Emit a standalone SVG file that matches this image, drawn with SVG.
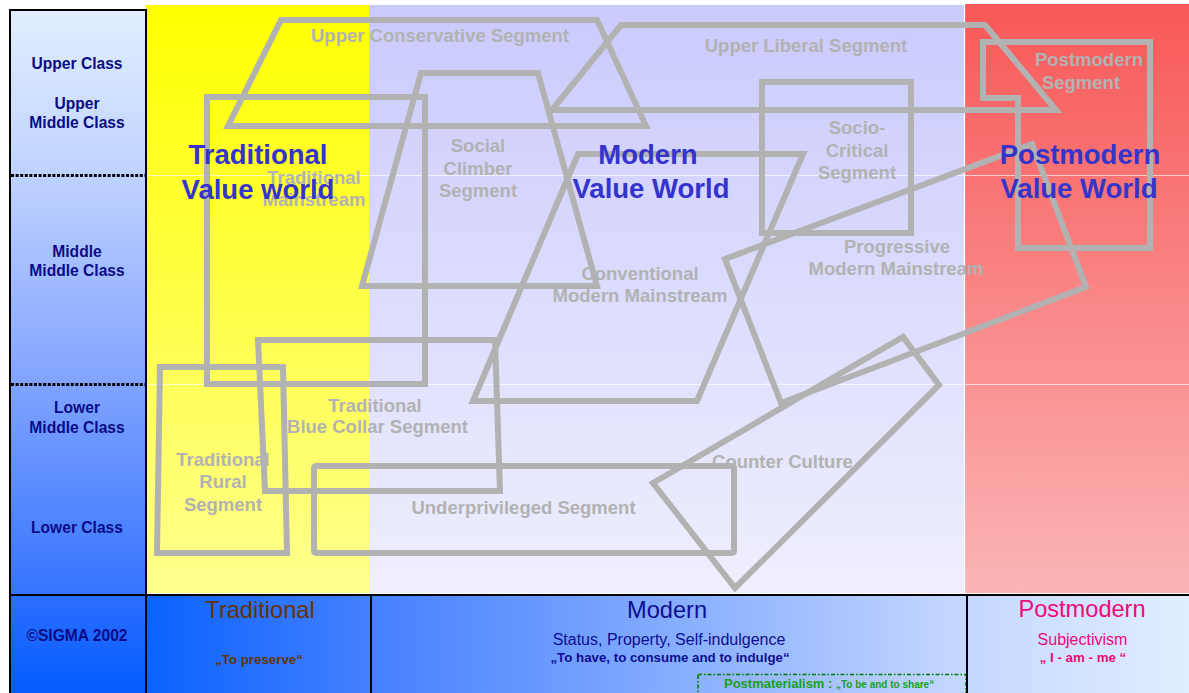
<svg xmlns="http://www.w3.org/2000/svg" width="1189" height="693" viewBox="0 0 1189 693">
  <defs>
    <linearGradient id="gYellow" x1="0" y1="5" x2="0" y2="593" gradientUnits="userSpaceOnUse">
      <stop offset="0" stop-color="#FFFF00"/>
      <stop offset="1" stop-color="#FFFF8E"/>
    </linearGradient>
    <linearGradient id="gLavender" x1="0" y1="5" x2="0" y2="593" gradientUnits="userSpaceOnUse">
      <stop offset="0" stop-color="#CACAFD"/>
      <stop offset="1" stop-color="#EFEFFE"/>
    </linearGradient>
    <linearGradient id="gRed" x1="0" y1="5" x2="0" y2="593" gradientUnits="userSpaceOnUse">
      <stop offset="0" stop-color="#F85858"/>
      <stop offset="1" stop-color="#FBB5B5"/>
    </linearGradient>
    <linearGradient id="gAxis" x1="0" y1="10" x2="0" y2="595" gradientUnits="userSpaceOnUse">
      <stop offset="0" stop-color="#E2EFFF"/>
      <stop offset="0.3" stop-color="#BCD0FF"/>
      <stop offset="0.6" stop-color="#88A8FF"/>
      <stop offset="1" stop-color="#3474FF"/>
    </linearGradient>
    <linearGradient id="gCorner" x1="0" y1="595" x2="0" y2="693" gradientUnits="userSpaceOnUse">
      <stop offset="0" stop-color="#2C6EFF"/>
      <stop offset="1" stop-color="#045CFF"/>
    </linearGradient>
    <linearGradient id="gBar" x1="146" y1="0" x2="1189" y2="0" gradientUnits="userSpaceOnUse">
      <stop offset="0" stop-color="#0A62FF"/>
      <stop offset="0.215" stop-color="#4480FF"/>
      <stop offset="0.78" stop-color="#C4D7FF"/>
      <stop offset="1" stop-color="#E0EEFF"/>
    </linearGradient>
    <style>
      text { font-family: "Liberation Sans", Arial, sans-serif; text-anchor: middle; }
      .axis { font-size: 15.6px; font-weight: bold; fill: #0B0B85; }
      .seg { fill: none; stroke: #B2B2B2; stroke-width: 6; stroke-linejoin: miter; }
      .segtxt { font-size: 18.5px; font-weight: bold; fill: #B2B2B2; }
      .world { font-size: 27.5px; font-weight: bold; fill: #3434CC; }
      .rule { stroke: #000; stroke-width: 2; fill: none; }
      .dots { stroke: #000; stroke-width: 3; stroke-dasharray: 3 1.6; }
      .faint { stroke: #FFFFFF; stroke-opacity: 0.65; stroke-width: 1; }
      .bigval { font-size: 23.6px; }
      .subval { font-size: 16px; }
      .motto { font-size: 13.3px; font-weight: bold; }
    </style>
  </defs>

  <!-- value world fields -->
  <g id="background">
    <rect x="146" y="5" width="223" height="588" fill="url(#gYellow)"/>
    <rect x="369" y="5" width="595" height="588" fill="url(#gLavender)"/>
    <rect x="964" y="4" width="225" height="589" fill="url(#gRed)"/>
    <line x1="964.5" y1="4" x2="964.5" y2="593" stroke="#FFFFFF" stroke-width="1.2"/>
    <line class="faint" x1="146" y1="175.5" x2="1189" y2="175.5"/>
    <line class="faint" x1="146" y1="384.5" x2="1189" y2="384.5"/>
  </g>

  <!-- social class axis -->
  <g id="class-axis">
    <rect x="10" y="10" width="136" height="585" fill="url(#gAxis)"/>
    <line class="dots" x1="11" y1="175.5" x2="145" y2="175.5"/>
    <line class="dots" x1="11" y1="384.5" x2="145" y2="384.5"/>
    <text class="axis" x="77" y="69">Upper Class</text>
    <text class="axis" x="77" y="109">Upper</text>
    <text class="axis" x="77" y="128">Middle Class</text>
    <text class="axis" x="77" y="257">Middle</text>
    <text class="axis" x="77" y="276">Middle Class</text>
    <text class="axis" x="77" y="413">Lower</text>
    <text class="axis" x="77" y="433">Middle Class</text>
    <text class="axis" x="77" y="533">Lower Class</text>
  </g>

  <!-- milieu segments -->
  <g id="seg-upper-conservative">
    <polygon class="seg" points="281,20 597,20 646,126 228,126"/>
    <text class="segtxt" x="440" y="42">Upper Conservative Segment</text>
  </g>
  <g id="seg-upper-liberal">
    <polygon class="seg" points="552,110 621,25 985,25 1056,110"/>
    <text class="segtxt" x="806" y="52">Upper Liberal Segment</text>
  </g>
  <g id="seg-postmodern">
    <polygon class="seg" points="983,42 1150,42 1150,248 1018,248 1018,98 983,98"/>
    <text class="segtxt" x="1089" y="66">Postmodern</text>
    <text class="segtxt" x="1081" y="89">Segment</text>
  </g>
  <g id="seg-traditional-mainstream">
    <rect class="seg" x="207" y="97" width="218" height="287"/>
    <text class="segtxt" x="314" y="184">Traditional</text>
    <text class="segtxt" x="314" y="206">Mainstream</text>
  </g>
  <g id="seg-social-climber">
    <polygon class="seg" points="421,73 538,73 597,286 362,286"/>
    <text class="segtxt" x="478" y="152">Social</text>
    <text class="segtxt" x="478" y="174.5">Climber</text>
    <text class="segtxt" x="478" y="197">Segment</text>
  </g>
  <g id="seg-socio-critical">
    <rect class="seg" x="762" y="82" width="149" height="151"/>
    <text class="segtxt" x="857" y="134">Socio-</text>
    <text class="segtxt" x="857" y="157">Critical</text>
    <text class="segtxt" x="857" y="179">Segment</text>
  </g>
  <g id="seg-conventional-modern">
    <polygon class="seg" points="578,154 803,154 697,401 473,401"/>
    <text class="segtxt" x="640" y="280">Conventional</text>
    <text class="segtxt" x="640" y="302">Modern Mainstream</text>
  </g>
  <g id="seg-progressive-modern">
    <polygon class="seg" points="725,259 1032,144 1086,287 781,403"/>
    <text class="segtxt" x="897" y="253">Progressive</text>
    <text class="segtxt" x="896" y="275">Modern Mainstream</text>
  </g>
  <g id="seg-blue-collar">
    <polygon class="seg" points="258,340 495,340 500,491 265,491"/>
    <text class="segtxt" x="375" y="412">Traditional</text>
    <text class="segtxt" x="377.5" y="433">Blue Collar Segment</text>
  </g>
  <g id="seg-rural">
    <polygon class="seg" points="160,367 283,367 287,553 157,553"/>
    <text class="segtxt" x="223" y="465.5">Traditional</text>
    <text class="segtxt" x="223" y="488">Rural</text>
    <text class="segtxt" x="223" y="510.5">Segment</text>
  </g>
  <g id="seg-underprivileged">
    <rect class="seg" x="314" y="466" width="420" height="87" rx="2"/>
    <text class="segtxt" x="523.5" y="513.5">Underprivileged Segment</text>
  </g>
  <g id="seg-counter-culture">
    <polygon class="seg" points="653,483 903,337 939,385 735,588"/>
    <text class="segtxt" x="782.5" y="468">Counter Culture</text>
  </g>

  <!-- value world headings -->
  <g id="value-worlds">
    <text class="world" x="258" y="164">Traditional</text>
    <text class="world" x="258" y="198.5">Value world</text>
    <text class="world" x="648" y="163.5">Modern</text>
    <text class="world" x="651" y="197.5">Value World</text>
    <text class="world" x="1080" y="163.5">Postmodern</text>
    <text class="world" x="1079" y="197.5">Value World</text>
  </g>

  <!-- value orientation bar -->
  <g id="value-bar">
    <rect x="10" y="595" width="136" height="98" fill="url(#gCorner)"/>
    <rect x="146" y="595" width="1043" height="98" fill="url(#gBar)"/>
    <text class="axis" x="77" y="641">©SIGMA 2002</text>

    <g id="bar-traditional" fill="#663300">
      <text class="bigval" x="260" y="618">Traditional</text>
      <text class="motto" x="259" y="664">„To preserve“</text>
    </g>
    <g id="bar-modern" fill="#0E0E90">
      <text class="bigval" x="667" y="618">Modern</text>
      <text class="subval" x="669" y="645">Status, Property, Self-indulgence</text>
      <text class="motto" x="670" y="662">„To have, to consume and to indulge“</text>
    </g>
    <g id="bar-postmaterialism">
      <rect x="698" y="674.5" width="268" height="24" fill="none" stroke="#007A00" stroke-width="1.6" stroke-dasharray="4 2 1.5 2"/>
      <text x="724" y="687.5" fill="#18A018" font-weight="bold" style="text-anchor:start"><tspan font-size="13px">Postmaterialism : </tspan><tspan font-size="10px">„To be and to share“</tspan></text>
    </g>
    <g id="bar-postmodern" fill="#EE0A78">
      <text class="bigval" x="1082" y="617">Postmodern</text>
      <text class="subval" x="1082.5" y="645">Subjectivism</text>
      <text class="motto" x="1083" y="662">„ I - am - me “</text>
    </g>
  </g>

  <!-- frame rules -->
  <g id="frame">
    <line class="rule" x1="10" y1="9" x2="10" y2="693"/>
    <line class="rule" x1="9" y1="10" x2="147" y2="10"/>
    <line class="rule" x1="146" y1="9" x2="146" y2="693"/>
    <line class="rule" x1="9" y1="595" x2="1189" y2="595"/>
    <line class="rule" x1="371" y1="595" x2="371" y2="693"/>
    <line class="rule" x1="967" y1="595" x2="967" y2="693"/>
  </g>
</svg>
